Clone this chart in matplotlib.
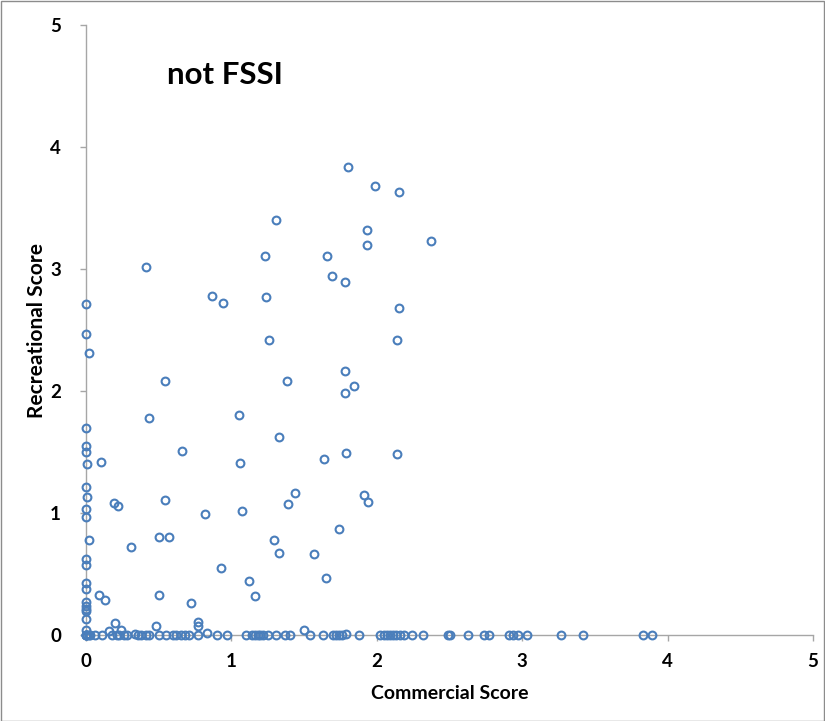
import matplotlib
matplotlib.use("Agg")
import matplotlib.pyplot as plt
from matplotlib.patches import Rectangle

plt.rcParams['font.family'] = ['Lato', 'DejaVu Sans']

title_text = "not FSSI"
x_label = "Commercial Score"
y_label = "Recreational Score"
x_ticks = [0, 1, 2, 3, 4, 5]
y_ticks = [0, 1, 2, 3, 4, 5]

# points with recreational score above zero
commercial_pos = [0, 0, 0.02, 0, 0, 0, 0.01, 0, 0.01, 0, 0, 0.02, 0, 0, 0, 0, 0, 0, 0, 0, 0, 0,
                  0.10, 0.19, 0.22, 0.31, 0.09, 0.13, 0.20, 0.24, 0.43, 0.54, 0.50, 0.57, 0.50, 0.48,
                  0.54, 0.66, 1.31, 1.23, 1.66, 1.69, 0.41, 0.87, 0.94, 1.24, 1.26, 1.38,
                  1.80, 1.99, 2.15, 1.93, 1.93, 2.37, 1.78, 2.15, 2.14, 1.78, 1.84, 1.78,
                  1.05, 1.33, 1.06, 1.64, 1.44, 1.39, 0.82, 1.07, 1.29, 1.33, 1.57, 1.65,
                  0.93, 1.12, 1.16, 0.72, 0.77, 0.77, 0.83, 1.50,
                  1.79, 2.14, 1.91, 1.94, 1.74, 1.79, 0.16, 0.34]
recreational_pos = [2.71, 2.47, 2.31, 1.70, 1.55, 1.50, 1.40, 1.21, 1.13, 1.03, 0.97, 0.78, 0.62, 0.57,
                    0.43, 0.38, 0.27, 0.24, 0.21, 0.20, 0.13, 0.04,
                    1.42, 1.08, 1.06, 0.72, 0.33, 0.29, 0.10, 0.04, 1.78, 1.11, 0.80, 0.80, 0.33, 0.07,
                    2.08, 1.51, 3.40, 3.11, 3.11, 2.94, 3.02, 2.78, 2.72, 2.77, 2.42, 2.08,
                    3.84, 3.68, 3.63, 3.32, 3.20, 3.23, 2.89, 2.68, 2.42, 2.16, 2.04, 1.98,
                    1.80, 1.62, 1.41, 1.44, 1.16, 1.07, 0.99, 1.02, 0.78, 0.67, 0.66, 0.47,
                    0.55, 0.44, 0.32, 0.26, 0.11, 0.07, 0.02, 0.04,
                    1.49, 1.48, 1.15, 1.09, 0.87, 0.01, 0.03, 0.01]

# points with recreational score of zero
commercial_zero = [0, 0, 0, 0, 0.01, 0.02, 0.03, 0.06, 0.11, 0.18, 0.21, 0.23, 0.26, 0.28, 0.36, 0.38,
                   0.41, 0.43, 0.50, 0.55, 0.60, 0.62, 0.65, 0.68, 0.71, 0.77, 0.90, 0.97, 1.10, 1.14,
                   1.16, 1.18, 1.20, 1.22, 1.25, 1.31, 1.37, 1.40, 1.54, 1.63, 1.70, 1.72, 1.74, 1.76,
                   1.88, 2.02, 2.05, 2.07, 2.09, 2.11, 2.13, 2.16, 2.19, 2.24, 2.32, 2.49, 2.50, 2.63,
                   2.74, 2.77, 2.91, 2.94, 2.97, 3.03, 3.27, 3.42, 3.83, 3.89]
recreational_zero = [0.0] * len(commercial_zero)

commercial = commercial_pos + commercial_zero
recreational = recreational_pos + recreational_zero

fig = plt.figure(figsize=(8.25, 7.21), dpi=100)
ax = fig.add_axes([86/825, 86/721, 727/825, 610/721])

ax.plot(commercial, recreational, linestyle='none', marker='o', markersize=5.6,
        markerfacecolor='none', markeredgecolor='#4a7ebb', markeredgewidth=1.5,
        clip_on=False, zorder=5)

ax.set_xlim(0, 5)
ax.set_ylim(0, 5)
ax.set_xticks(x_ticks)
ax.set_yticks(y_ticks)
ax.set_xticklabels([str(t) for t in x_ticks])
ax.set_yticklabels([str(t) for t in y_ticks])

for s in ['top', 'right']:
    ax.spines[s].set_visible(False)
for s in ['left', 'bottom']:
    ax.spines[s].set_color('#a6a6a6')
    ax.spines[s].set_linewidth(1.0)

ax.tick_params(axis='both', direction='out', length=4, width=1, color='#a6a6a6',
               labelsize=13.5)
ax.tick_params(axis='y', pad=14)
ax.tick_params(axis='x', pad=9)
for lab in ax.get_xticklabels() + ax.get_yticklabels():
    lab.set_fontweight('bold')

ax.set_xlabel(x_label, fontsize=14, fontweight='bold', labelpad=11)
ax.set_ylabel(y_label, fontsize=15, fontweight='bold', labelpad=2)

ax.text(0.56, 4.59, title_text, fontsize=22.5, fontweight='bold', ha='left', va='center')

fig.patches.append(Rectangle((0.5/825, 0.5/721), 1 - 1.5/825, 1 - 1.5/721, transform=fig.transFigure,
                             fill=False, edgecolor='#8c8c8c', linewidth=1.0))

fig.savefig('out.png', dpi=100)
